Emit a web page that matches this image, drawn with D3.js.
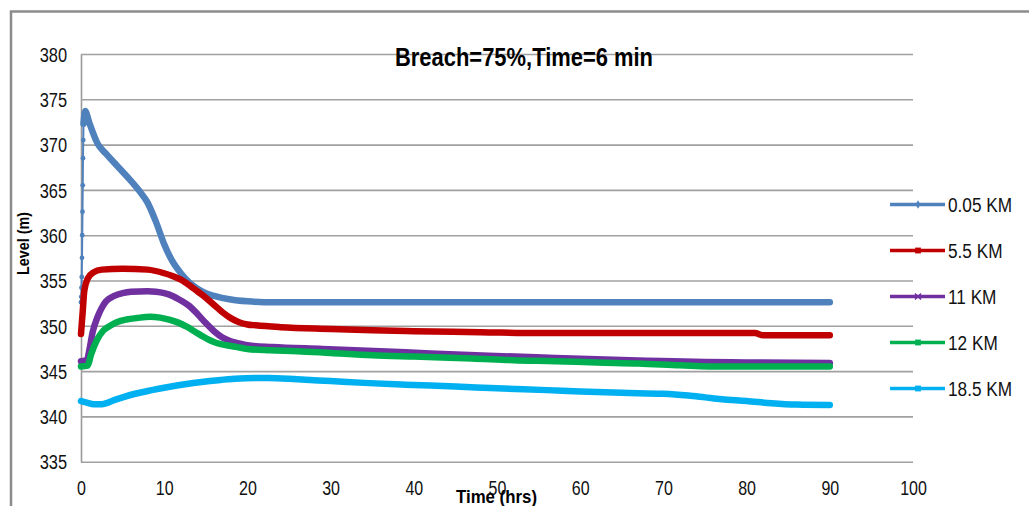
<!DOCTYPE html>
<html>
<head>
<meta charset="utf-8">
<script src="https://cdn.jsdelivr.net/npm/d3@7/dist/d3.min.js"></script>
<style>
  html, body { margin: 0; padding: 0; background: #fff; }
  svg { display: block; }
  text { font-family: "Liberation Sans", Arial, sans-serif; }
</style>
</head>
<body>
<svg id="chart" width="1029" height="506"></svg>
<script>
// ---------------- data ----------------
const seriesNames = ["0.05 KM", "5.5 KM", "11 KM", "12 KM", "18.5 KM"];
const xTicks = [0, 10, 20, 30, 40, 50, 60, 70, 80, 90, 100];
const yTicks = [335, 340, 345, 350, 355, 360, 365, 370, 375, 380];
const chartTitle = "Breach=75%,Time=6 min";
const xTitle = "Time (hrs)";
const yTitle = "Level (m)";

// 0.05 KM : initial sparse rise (individual points visible)
const tRamp005  = [0, 0.03, 0.06, 0.09, 0.12, 0.15, 0.18, 0.21, 0.24, 0.27, 0.3];
const lvRamp005 = [352.6, 353.2, 354.2, 355.4, 357.5, 360.0, 362.6, 365.5, 368.5, 370.5, 372.3];
// 0.05 KM : main record
const t005  = [0.3, 0.5, 1, 2, 3, 4, 5, 6, 7, 8, 9, 10, 11, 12, 13, 14, 15, 16, 18, 20, 22, 40, 60, 90];
const lv005 = [372.3, 373.7, 372.4, 370.1, 369.0, 368.0, 367.0, 366.0, 364.9, 363.6, 361.5, 359.0, 357.1, 355.8, 354.8, 354.1, 353.6, 353.3, 352.9, 352.7, 352.6, 352.6, 352.6, 352.6];

const t55  = [0, 0.2, 0.4, 0.8, 1.5, 2.5, 5, 8, 10, 11, 12, 13, 14, 15, 16, 17, 18, 19, 20, 21, 24, 30, 35, 40, 48, 55, 70, 81, 82, 90];
const lv55 = [349.1, 351.5, 353.9, 355.2, 355.9, 356.2, 356.3, 356.2, 355.8, 355.5, 355.1, 354.5, 353.8, 353.1, 352.3, 351.5, 350.85, 350.4, 350.15, 350.05, 349.85, 349.65, 349.5, 349.4, 349.3, 349.2, 349.2, 349.2, 348.95, 348.95];

const t11  = [0, 0.7, 1, 1.4, 2, 2.5, 3, 4, 5, 6, 8, 9, 10, 11, 12, 13, 14, 15, 16, 17, 18, 19, 20, 23, 29, 36, 42, 49, 57, 62, 68, 75, 80, 90];
const lv11 = [346.1, 346.2, 347.3, 349.3, 351.0, 352.0, 352.7, 353.3, 353.6, 353.75, 353.8, 353.75, 353.6, 353.3, 352.8, 352.2, 351.3, 350.3, 349.4, 348.7, 348.3, 348.05, 347.85, 347.65, 347.45, 347.2, 346.95, 346.7, 346.45, 346.3, 346.15, 346.0, 345.95, 345.9];

const t12  = [0, 0.8, 1.2, 1.9, 2.7, 3.5, 4.3, 5.5, 6.7, 8.3, 9.5, 10.7, 11.7, 12.7, 13.7, 14.7, 15.5, 16.3, 17.5, 18.75, 20, 22.7, 26, 30, 35, 40, 47, 52, 57, 62, 67, 72, 77, 90];
const lv12 = [345.5, 345.6, 346.8, 348.4, 349.5, 350.0, 350.4, 350.7, 350.85, 351.0, 350.9, 350.65, 350.35, 349.9, 349.35, 348.8, 348.4, 348.1, 347.85, 347.65, 347.45, 347.3, 347.2, 347.0, 346.75, 346.6, 346.4, 346.2, 346.1, 345.95, 345.85, 345.65, 345.5, 345.5];

const t185  = [0, 0.8, 1.5, 2.5, 4, 5, 6.5, 8.5, 10.5, 12.5, 14.5, 16.5, 18.5, 22.5, 26, 30, 34, 39, 45, 50, 56, 60, 65, 70, 73, 75, 77, 80, 83, 86, 90];
const lv185 = [341.7, 341.5, 341.35, 341.35, 341.8, 342.1, 342.5, 342.9, 343.25, 343.55, 343.8, 344.0, 344.15, 344.25, 344.1, 343.9, 343.7, 343.5, 343.3, 343.1, 342.9, 342.75, 342.6, 342.5, 342.3, 342.1, 341.9, 341.7, 341.45, 341.3, 341.25];

// ---------------- styles ----------------
const colors  = ["#4F81BD", "#C00000", "#7030A0", "#00B050", "#00B0F0"];
const symbols = [d3.symbolDiamond, d3.symbolSquare, d3.symbolX, d3.symbolSquare, d3.symbolSquare];

const seriesT  = [t005, t55, t11, t12, t185];
const seriesLv = [lv005, lv55, lv11, lv12, lv185];
const series = seriesNames.map((n, i) => ({
  name: n, color: colors[i],
  pts: seriesT[i].map((t, j) => [t, seriesLv[i][j]])
}));
const ramp = tRamp005.map((t, j) => [t, lvRamp005[j]]);

// ---------------- layout ----------------
const svg = d3.select("#chart");
const L = 81, R = 913, T = 54, B = 461.7;
const x = d3.scaleLinear().domain([0, 100]).range([L, R]);
const y = d3.scaleLinear().domain([335, 380]).range([B, T]);

function condense(sel, k) {
  sel.each(function () {
    const w = this.getComputedTextLength();
    d3.select(this).attr("textLength", w * k).attr("lengthAdjust", "spacingAndGlyphs");
  });
}

// outer frame
svg.append("path")
  .attr("d", "M11,506 V11.5 H1029")
  .attr("fill", "none").attr("stroke", "#8c8c8c").attr("stroke-width", 2.5);

// y axis + gridlines
const gy = svg.append("g").attr("transform", `translate(${L},0)`)
  .call(d3.axisLeft(y).tickValues(yTicks).tickSize(-(R - L)).tickSizeOuter(0).tickPadding(14).tickFormat(d3.format("d")));
gy.select(".domain").attr("stroke", "#9a9a9a").attr("stroke-width", 1.6);
gy.selectAll(".tick line").attr("stroke", "#a0a0a0").attr("stroke-width", 1.6);
gy.selectAll(".tick text").attr("font-size", 20).attr("fill", "#111").attr("dy", "0.36em")
  .style("font-family", "'Liberation Sans', Arial, sans-serif");
condense(gy.selectAll(".tick text"), 0.82);

// x axis (labels only)
const gx = svg.append("g").attr("transform", `translate(0,${B})`)
  .call(d3.axisBottom(x).tickValues(xTicks).tickSize(0).tickPadding(19).tickFormat(d3.format("d")));
gx.select(".domain").remove();
gx.selectAll(".tick text").attr("font-size", 20).attr("fill", "#111")
  .style("font-family", "'Liberation Sans', Arial, sans-serif");
condense(gx.selectAll(".tick text"), 0.8);

// series lines
const line = d3.line().x(d => x(d[0])).y(d => y(d[1])).curve(d3.curveMonotoneX);
const lineLin = d3.line().x(d => x(d[0])).y(d => y(d[1]));

// blue initial thin rise with point markers
svg.append("path").datum(ramp)
  .attr("d", lineLin).attr("fill", "none")
  .attr("stroke", colors[0]).attr("stroke-width", 2);
svg.append("g").selectAll("circle").data(ramp).join("circle")
  .attr("cx", d => x(d[0])).attr("cy", d => y(d[1])).attr("r", 2.4)
  .attr("fill", colors[0]);

svg.append("g").selectAll("path.series").data(series).join("path")
  .attr("class", "series")
  .attr("d", d => line(d.pts))
  .attr("fill", "none")
  .attr("stroke", d => d.color)
  .attr("stroke-width", 6.5)
  .attr("stroke-linejoin", "round")
  .attr("stroke-linecap", "round");

// title
const title = svg.append("text")
  .attr("x", 524).attr("y", 66).attr("text-anchor", "middle")
  .attr("font-size", 25).attr("font-weight", "bold").attr("fill", "#000")
  .attr("textLength", 258).attr("lengthAdjust", "spacingAndGlyphs")
  .text(chartTitle);

// axis titles
svg.append("text")
  .attr("transform", "translate(29,243.5) rotate(-90)")
  .attr("text-anchor", "middle")
  .attr("font-size", 17).attr("font-weight", "bold").attr("fill", "#000")
  .attr("textLength", 63).attr("lengthAdjust", "spacingAndGlyphs")
  .text(yTitle);

svg.append("text")
  .attr("x", 496.5).attr("y", 503).attr("text-anchor", "middle")
  .attr("font-size", 18).attr("font-weight", "bold").attr("fill", "#000")
  .attr("textLength", 81).attr("lengthAdjust", "spacingAndGlyphs")
  .text(xTitle);

// legend
const legY0 = 204.5, legDy = 46;
const lg = svg.append("g").selectAll("g").data(series).join("g")
  .attr("transform", (d, i) => `translate(0,${legY0 + i * legDy})`);
lg.append("line").attr("x1", 890).attr("x2", 945).attr("y1", 0).attr("y2", 0)
  .attr("stroke", d => d.color).attr("stroke-width", 3.5);
lg.append("path")
  .attr("transform", "translate(918,0)")
  .attr("d", (d, i) => d3.symbol().type(symbols[i]).size(i === 0 ? 22 : (i === 2 ? 26 : 34))())
  .attr("fill", d => d.color)
  .attr("stroke", (d, i) => i === 2 ? d.color : "none")
  .attr("stroke-width", 1.5);
const lt = lg.append("text").attr("x", 948).attr("y", 0).attr("dy", "0.36em")
  .attr("font-size", 20).attr("fill", "#111")
  .text(d => d.name);
condense(lt, 0.86);
</script>
</body>
</html>
